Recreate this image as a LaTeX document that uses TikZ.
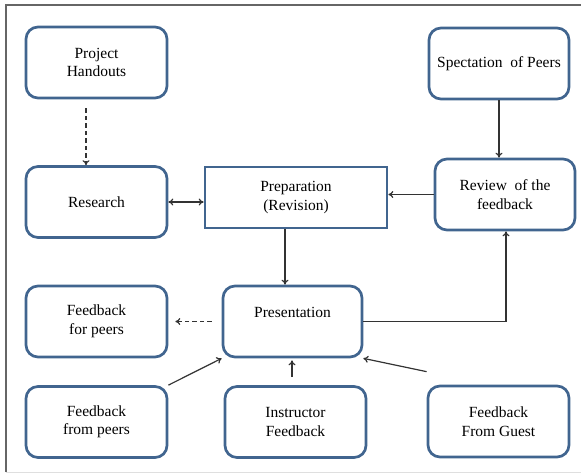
\documentclass[tikz,border=0pt]{standalone}
\usepackage{fontspec}
\setmainfont{Liberation Serif}
\newfontfamily\boxfont{Liberation Serif}
\usetikzlibrary{arrows.meta}
\definecolor{boxblue}{HTML}{41658F}
\definecolor{linegray}{HTML}{333333}

\tikzset{
    stage/.style={draw=boxblue, line width=2.7pt, rounded corners=12pt,
        minimum width=141pt, minimum height=71pt, align=center,
        inner sep=0pt, font=\boxfont\fontsize{15.5}{18.5}\selectfont},
    flow/.style={draw=linegray, line width=1.2pt, -{To[length=5pt,width=7pt]}},
    dashflow/.style={flow, dash pattern=on 4.5pt off 3pt},
}

\begin{document}
\begin{tikzpicture}[x=1pt, y=-1pt]
    \useasboundingbox (0,0) rectangle (581,475);
    % frame
    \draw [gray!80!black, line width=1.5pt] (6,472) -- (6,5) -- (581,5);
    \draw [gray!25, line width=1pt] (6,472) -- (581,472);

    % left column
    \node [stage] (hand) at (96.5,62.5) {Project\\Handouts};
    \node [stage] (res) at (96.5,202) {Research};
    \node [stage] (fbp) at (96.5,321.5) {Feedback\\for peers};
    \node [stage] (ffp) at (96.5,422) {Feedback\\from peers};
    % middle column
    \node [stage, rounded corners=0pt, minimum width=182pt, minimum height=61pt] (prep) at (296,197.5) {Preparation\\(Revision)};
    \node [stage, minimum width=139pt] (pres) at (292.5,321.5) {Presentation\\~};
    \node [stage] (inst) at (295.5,422) {Instructor\\Feedback};
    % right column
    \node [stage, minimum width=140pt] (spec) at (499,63.5) {Spectation\ \ of Peers};
    \node [stage, minimum width=140pt] (rev) at (505,194.5) {Review\ \ of the\\feedback};
    \node [stage] (guest) at (498.5,421.5) {Feedback\\From Guest};

    % connectors
    \draw [dashflow, shorten <=9pt] ([xshift=-10.5pt]hand.south) -- ([xshift=-10.5pt]res.north);
    \draw [flow, {To[length=5pt,width=7pt]}-{To[length=5pt,width=7pt]}] (res.east) -- (res.east -| prep.west);
    \draw [flow] (spec.south) -- (spec.south |- rev.north);
    \draw [flow] (rev.west) -- (rev.west -| prep.east);
    \draw [flow] ([xshift=-11pt]prep.south) -- ([xshift=-11pt]prep.south |- pres.north);
    \draw [flow] (pres.east) -| ([xshift=1pt]rev.south);
    \draw [dashflow, shorten <=10pt, shorten >=7pt] (pres.west) -- (pres.west -| fbp.east);
    \draw [flow] (ffp.north east) -- (pres.south west);
    \draw [flow, shorten <=8pt, shorten >=2pt] ([xshift=-3.5pt]inst.north) -- ([xshift=-3.5pt]inst.north |- pres.south);
    \draw [flow] ([yshift=13pt]guest.north west) -- (pres.south east);
\end{tikzpicture}
\end{document}
